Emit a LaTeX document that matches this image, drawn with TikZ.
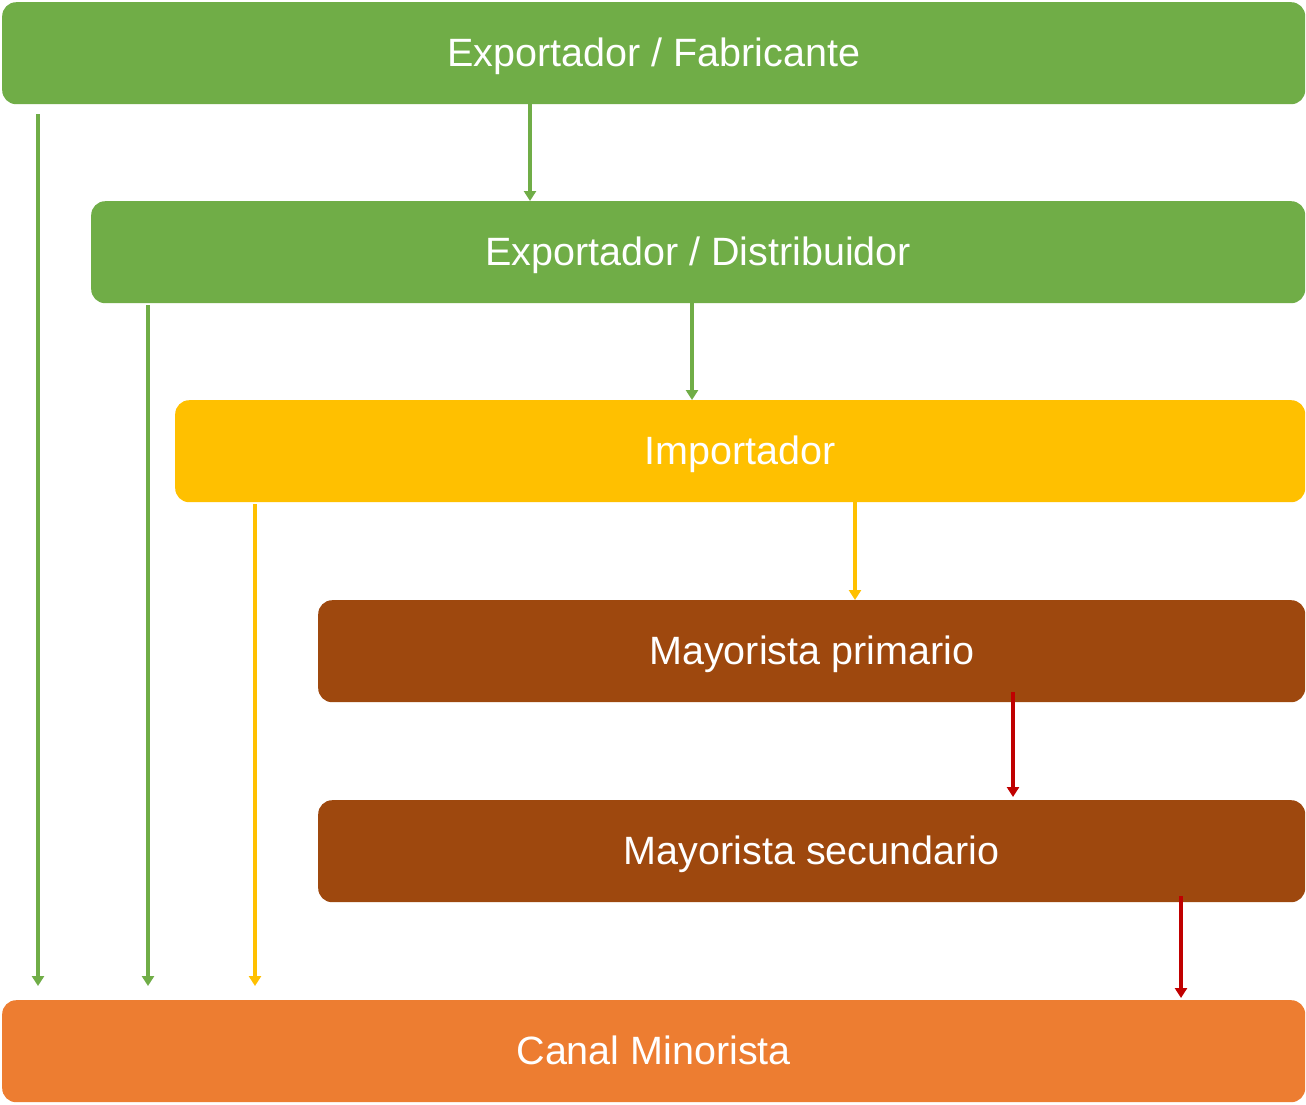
\documentclass[tikz,border=0pt]{standalone}
\usepackage{fontspec}
\setmainfont{Liberation Sans}
\usetikzlibrary{arrows.meta}
\definecolor{cgreen}{HTML}{70AD47}
\definecolor{cyellow}{HTML}{FFC000}
\definecolor{cbrown}{HTML}{9E480E}
\definecolor{corange}{HTML}{ED7D31}
\definecolor{cred}{HTML}{C00000}
\tikzset{
  box/.style={rectangle, rounded corners=14pt, anchor=north west, inner sep=0pt,
    text=white, font=\fontsize{39.5}{46}\selectfont, minimum height=102pt,
    text height=26pt, text depth=0pt},
  conn/.style={line width=3.2pt, -{Triangle[width=12pt,length=10pt]}},
}
\begin{document}
\begin{tikzpicture}[x=1pt,y=-1pt]
\useasboundingbox[fill=white] (0,0) rectangle (1306,1104);
\node[box, fill=cgreen, minimum width=1303pt] (fab) at (2,2) {Exportador / Fabricante};
\node[box, fill=cgreen, minimum width=1214pt] (dis) at (91,201) {Exportador / Distribuidor};
\node[box, fill=cyellow, minimum width=1130pt] (imp) at (175,400) {Importador};
\node[box, fill=cbrown, minimum width=987pt] (may1) at (318,600) {Mayorista primario};
\node[box, fill=cbrown, minimum width=987pt] (may2) at (318,800) {Mayorista secundario};
\node[box, fill=corange, minimum width=1303pt] (can) at (2,1000) {Canal Minorista};
% long arrows to retail channel
\draw[conn, cgreen, shorten <=10pt, shorten >=14pt] (fab.south -| 38,0) -- (can.north -| 38,0);
\draw[conn, cgreen, shorten <=2pt, shorten >=14pt] (dis.south -| 148,0) -- (can.north -| 148,0);
\draw[conn, cyellow, shorten <=2pt, shorten >=14pt] (imp.south -| 255,0) -- (can.north -| 255,0);
% step arrows
\draw[conn, cgreen] (fab.south -| 530,0) -- (dis.north -| 530,0);
\draw[conn, cgreen] (dis.south -| 692,0) -- (imp.north -| 692,0);
\draw[conn, cyellow] (imp.south -| 855,0) -- (may1.north -| 855,0);
\draw[conn, cred, shorten <=-10pt, shorten >=3pt] (may1.south -| 1013,0) -- (may2.north -| 1013,0);
\draw[conn, cred, shorten <=-6pt, shorten >=2pt] (may2.south -| 1181,0) -- (can.north -| 1181,0);
\end{tikzpicture}
\end{document}
